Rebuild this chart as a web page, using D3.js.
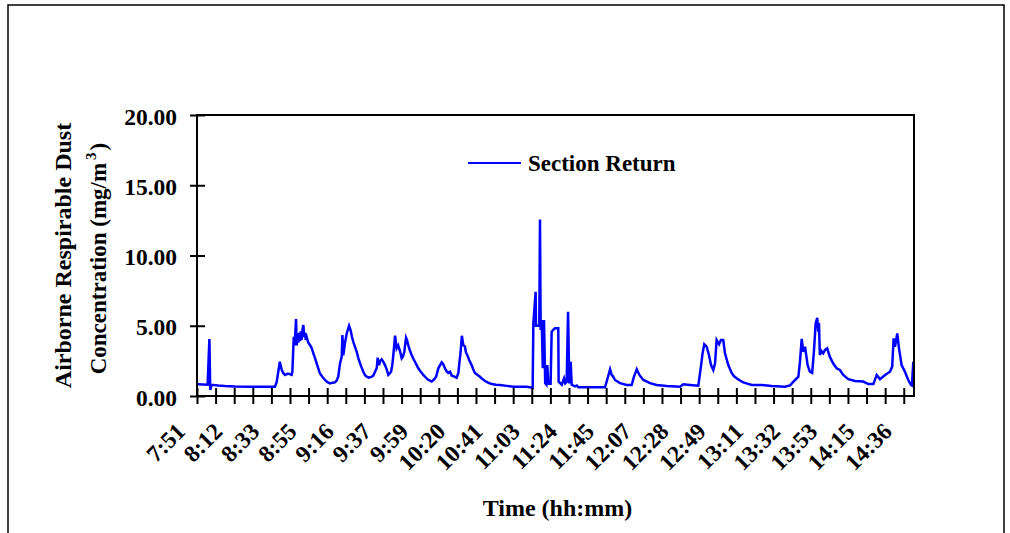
<!DOCTYPE html>
<html>
<head>
<meta charset="utf-8">
<script src="https://cdn.jsdelivr.net/npm/d3@7"></script>
<style>
  html, body { margin: 0; padding: 0; background: #fff; }
  svg { display: block; }
  text { font-family: "Liberation Serif", "Times New Roman", serif; font-weight: bold; fill: #000; }
</style>
</head>
<body>
<svg id="chart" width="1010" height="533"></svg>
<script>
// ---- data (elapsed minutes since 7:51, dust concentration mg/m3) ----
const seriesName = "Section Return";
const tickLabels = ["7:51","8:12","8:33","8:55","9:16","9:37","9:59","10:20","10:41","11:03",
                    "11:24","11:45","12:07","12:28","12:49","13:11","13:32","13:53","14:15","14:36"];
const yTickValues = [0, 5, 10, 15, 20];
const labelStepMinutes = 21.333;   // one labelled tick every 21 min 20 s
const totalMinutes = 411.2;        // 7:51 -> ~14:42

const minutes = [
  0.0,0.7,6.1,7.1,7.6,8.4,12.2,16.1,21.8,30.4,44.7,45.7,47.5,48.5,49.4,50.5,52.2,54.3,54.7,55.5,
  55.9,56.4,56.8,57.2,57.6,58.1,58.6,59.1,59.5,60.0,60.5,61.0,61.5,61.9,62.4,62.9,63.8,64.8,65.8,66.7,
  67.7,68.6,69.6,70.5,72.0,73.4,74.8,76.3,77.7,79.1,80.1,81.0,82.0,83.0,83.4,83.9,84.9,85.9,87.2,88.1,
  88.9,89.6,90.6,91.6,92.5,93.5,94.5,95.4,96.3,97.3,98.6,100.2,101.1,102.1,103.1,103.6,104.4,105.1,105.9,106.8,
  107.8,108.8,109.7,110.5,111.3,112.0,112.6,113.6,114.5,115.4,116.4,117.4,118.1,118.9,119.9,120.4,121.2,122.2,123.1,124.1,
  125.0,126.0,126.9,127.9,128.9,129.8,130.8,131.7,132.7,133.6,134.6,136.1,137.1,138.4,140.3,141.1,142.2,143.2,144.1,145.1,
  146.1,147.4,148.9,149.9,150.5,151.2,151.9,152.7,153.7,154.2,155.0,155.7,156.1,157.5,158.4,159.4,160.9,162.3,163.7,165.2,
  166.9,169.0,171.5,173.8,177.6,181.4,185.2,189.1,192.5,192.9,194.2,194.4,195.7,196.3,196.7,197.1,197.7,198.3,198.5,199.0,
  199.7,200.4,200.9,201.5,202.8,203.4,204.3,205.3,207.2,207.4,209.2,210.5,211.2,212.0,212.8,213.5,214.3,214.9,216.8,217.8,
  218.7,225.4,234.0,234.9,235.7,236.9,237.8,238.6,239.7,242.6,246.4,249.3,250.6,252.2,253.7,256.0,259.8,263.6,269.4,277.0,
  278.9,282.7,287.5,289.0,289.9,290.9,292.3,293.6,294.8,296.1,297.1,298.0,299.4,300.5,301.8,302.8,303.8,304.7,306.6,308.0,
  309.5,311.4,313.3,318.1,323.8,329.6,337.2,340.1,343.0,344.9,345.8,346.8,347.7,348.7,350.2,351.5,352.8,353.8,354.8,355.7,
  356.3,356.7,357.2,358.1,359.1,360.1,361.4,362.9,364.8,366.8,368.7,370.6,373.5,377.4,382.1,385.0,387.9,389.8,391.7,394.6,
  397.4,398.7,399.5,400.3,401.6,402.6,404.1,406.0,407.9,409.5,410.0,410.8
];
const dust = [
  0.83,0.83,0.80,4.06,0.43,0.80,0.75,0.71,0.68,0.66,0.66,1.00,2.44,1.90,1.64,1.50,1.60,1.50,1.73,4.22,
  3.60,4.50,5.48,3.60,4.40,3.80,4.50,3.90,4.60,4.00,4.70,5.05,4.20,4.50,4.00,4.20,3.80,3.63,3.40,3.04,
  2.70,2.33,1.95,1.60,1.35,1.14,0.98,0.90,0.95,0.97,1.10,1.37,2.30,2.80,4.34,2.90,3.80,4.46,5.00,4.67,
  4.20,3.87,3.50,3.15,2.70,2.33,2.00,1.73,1.50,1.37,1.30,1.37,1.45,1.73,2.00,2.73,2.20,2.50,2.60,2.45,
  2.20,1.90,1.50,1.60,1.73,2.20,2.92,4.29,3.39,3.60,3.20,2.68,2.80,3.15,4.15,4.00,3.60,3.20,2.92,2.65,
  2.44,2.20,1.97,1.80,1.64,1.50,1.37,1.25,1.14,1.10,1.03,1.20,1.37,1.97,2.40,2.30,1.97,1.75,1.64,1.73,
  1.45,1.40,1.30,1.64,2.40,3.15,4.29,3.63,3.51,3.10,2.92,2.70,2.56,2.20,1.90,1.64,1.50,1.37,1.20,1.07,
  0.95,0.85,0.80,0.78,0.72,0.66,0.66,0.66,0.59,5.17,7.42,5.00,5.00,5.10,12.57,4.70,5.40,1.97,3.00,5.40,
  0.90,0.80,2.20,0.88,0.88,4.58,4.70,4.82,4.82,1.02,0.80,1.26,0.90,1.00,6.00,0.90,2.44,0.80,0.69,0.75,
  0.62,0.62,0.62,1.00,1.37,1.90,1.50,1.40,1.14,0.92,0.78,0.78,1.37,1.90,1.50,1.14,0.92,0.78,0.71,0.66,
  0.83,0.78,0.73,2.09,3.00,3.68,3.51,2.92,2.20,1.85,2.33,3.99,3.68,3.99,3.99,3.04,2.60,2.20,1.64,1.40,
  1.26,1.10,0.97,0.78,0.78,0.71,0.66,0.75,1.14,1.37,2.44,4.06,3.15,3.51,2.20,1.73,1.64,3.15,5.17,5.57,
  4.58,5.20,2.92,3.20,3.04,3.27,3.39,2.80,2.33,1.97,1.85,1.50,1.20,1.07,1.03,0.85,0.85,1.50,1.20,1.50,
  1.73,2.09,4.10,3.51,4.46,3.39,2.20,1.73,1.14,0.78,0.75,2.44
];

// ---- layout ----
const svg = d3.select("#chart");
const plot = { left: 197, right: 914, top: 115, bottom: 396 };

const x = d3.scaleLinear().domain([0, totalMinutes]).range([plot.left, plot.right]);
const y = d3.scaleLinear().domain([0, 20]).range([plot.bottom, plot.top]);

// outer frame
svg.append("rect").attr("x", 8).attr("y", 5).attr("width", 996).attr("height", 560)
  .attr("fill", "none").attr("stroke", "#000").attr("stroke-width", 1.5);

// data line
const pts = minutes.map((m, i) => [m, dust[i]]);
svg.append("path").datum(pts)
  .attr("fill", "none").attr("stroke", "#0000FF").attr("stroke-width", 2.5)
  .attr("stroke-linejoin", "miter")
  .attr("d", d3.line().x(d => x(d[0])).y(d => y(d[1])));

// plot frame
svg.append("rect").attr("x", plot.left).attr("y", plot.top)
  .attr("width", plot.right - plot.left).attr("height", plot.bottom - plot.top)
  .attr("fill", "none").attr("stroke", "#000").attr("stroke-width", 2);

// x axis: ticks every half label step, labels on every second tick
const tickVals = d3.range(0, tickLabels.length * 2 - 1).map(i => i * labelStepMinutes / 2);
const xAxis = d3.axisBottom(x).tickValues(tickVals)
  .tickFormat((d, i) => i % 2 === 0 ? tickLabels[i / 2] : "")
  .tickSizeOuter(0).tickSizeInner(8);
const gx = svg.append("g").attr("transform", `translate(0,${plot.bottom})`).call(xAxis);
gx.select(".domain").remove();
gx.selectAll(".tick line").attr("y1", -8).attr("y2", 8).attr("stroke", "#000").attr("stroke-width", 2);
gx.selectAll(".tick text")
  .attr("x", 0).attr("y", 0).attr("dy", null)
  .attr("text-anchor", "end")
  .attr("transform", "translate(-11,37) rotate(-45)")
  .style("font-size", "23.5px").style("font-family", "'Liberation Serif', serif").style("font-weight", "bold");

// y axis
const yAxis = d3.axisLeft(y).tickValues(yTickValues).tickFormat(d3.format(".2f"))
  .tickSizeOuter(0).tickSizeInner(8);
const gy = svg.append("g").attr("transform", `translate(${plot.left},0)`).call(yAxis);
gy.select(".domain").remove();
gy.selectAll(".tick line").attr("x1", -7).attr("x2", 8).attr("stroke", "#000").attr("stroke-width", 2);
gy.selectAll(".tick text")
  .attr("x", -20).attr("dy", null).attr("y", 9)
  .attr("text-anchor", "end")
  .style("font-size", "23.5px").style("font-family", "'Liberation Serif', serif").style("font-weight", "bold");

// axis titles
svg.append("text").attr("x", (plot.left + plot.right) / 2 + 2).attr("y", 516)
  .attr("text-anchor", "middle").style("font-size", "24px").text("Time (hh:mm)");

const yt = svg.append("g").attr("transform", `translate(0,${(plot.top + plot.bottom) / 2}) rotate(-90)`);
yt.append("text").attr("x", 0).attr("y", 71).attr("text-anchor", "middle")
  .style("font-size", "24px").text("Airborne Respirable Dust");
const t2 = yt.append("text").attr("x", -3).attr("y", 106).attr("text-anchor", "middle")
  .style("font-size", "23px");
t2.append("tspan").text("Concentration (mg/m");
t2.append("tspan").attr("dx", 3).attr("dy", -10).style("font-size", "15px").text("3");
t2.append("tspan").attr("dx", 2).attr("dy", 10).text(")");

// legend
svg.append("line").attr("x1", 468).attr("x2", 521).attr("y1", 163).attr("y2", 163)
  .attr("stroke", "#0000FF").attr("stroke-width", 2);
svg.append("text").attr("x", 528).attr("y", 171).style("font-size", "23px").text(seriesName);
</script>
</body>
</html>
